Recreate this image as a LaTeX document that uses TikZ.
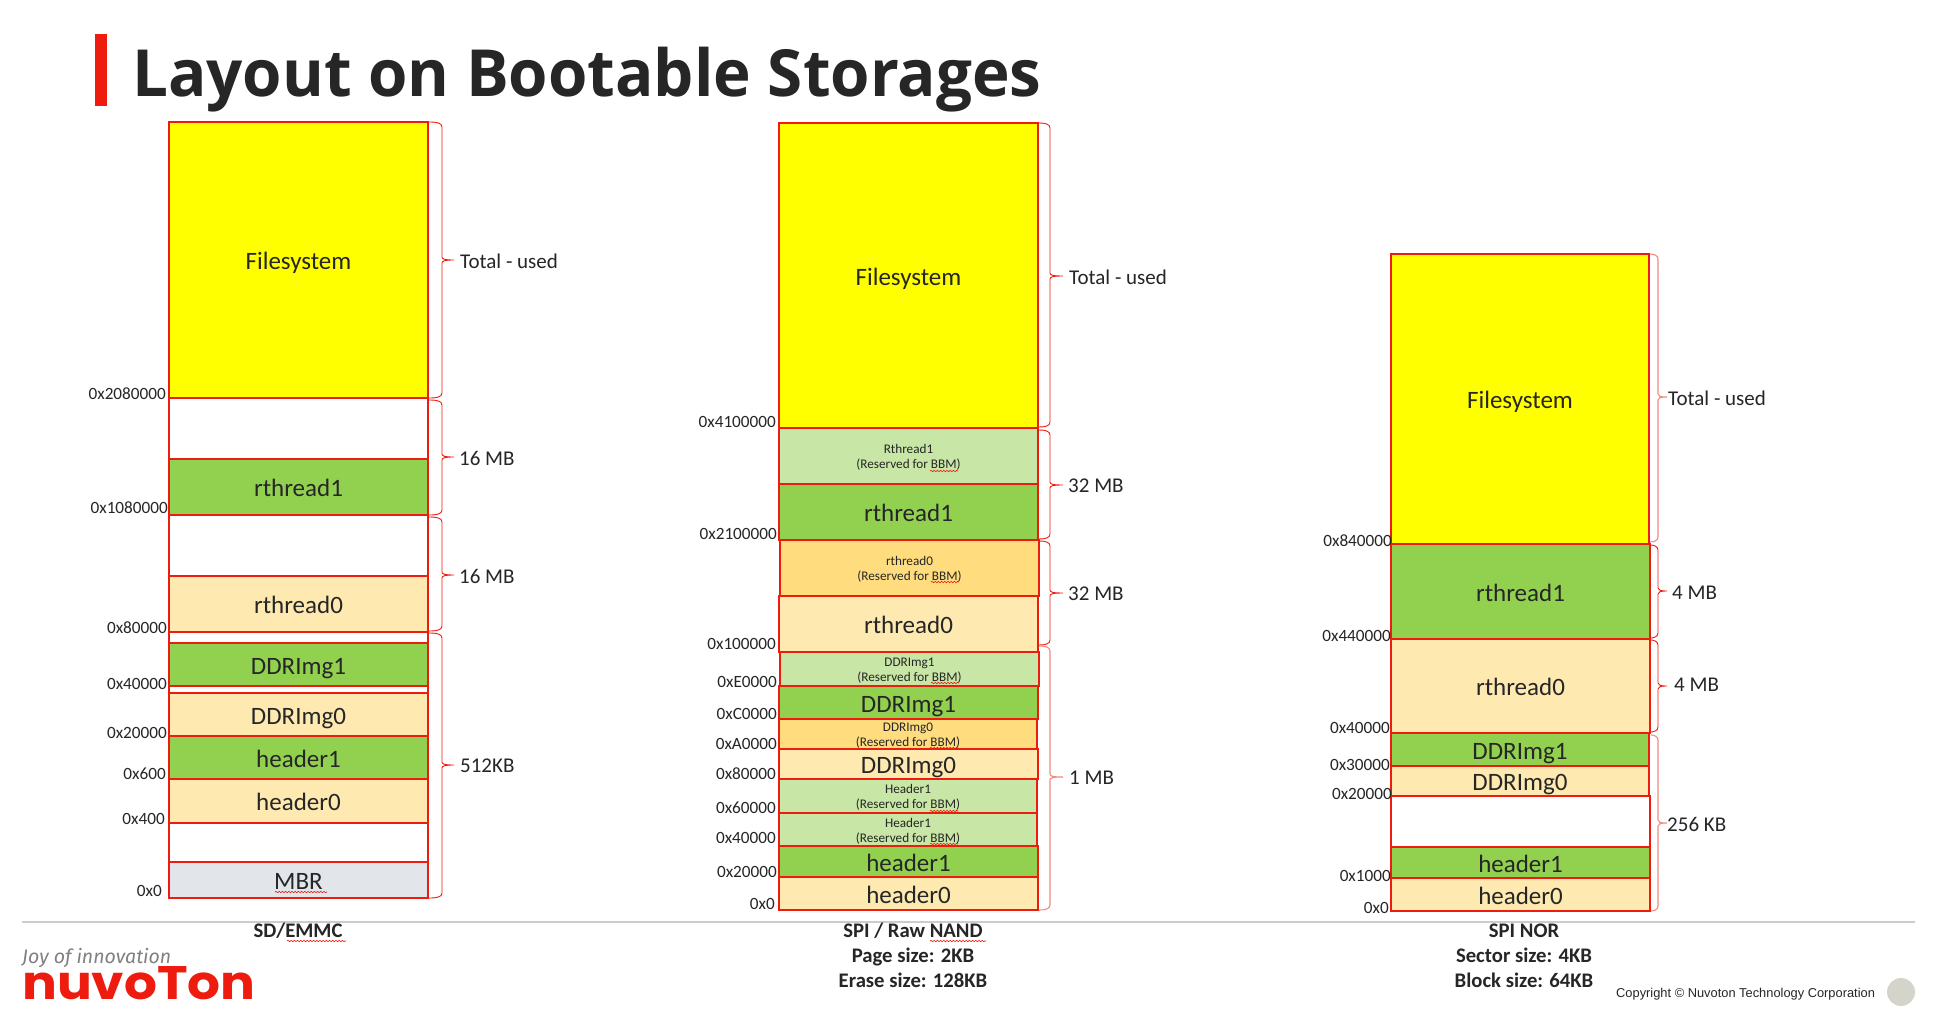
\documentclass[tikz,border=0pt]{standalone}
\usepackage{fontspec}
\usepackage{graphicx}
\setmainfont{Carlito}
\newfontfamily\titlefont{Open Sans}
\newfontfamily\arialfont{Liberation Sans}
\newfontfamily\logofont{Poppins}
\newfontfamily\joyfont{Fira Sans}
\usetikzlibrary{decorations.pathmorphing}
\definecolor{redline}{HTML}{EE1C0E}
\definecolor{brpale}{HTML}{F58A80}
\definecolor{ink}{HTML}{262626}
\definecolor{ylw}{HTML}{FFFF00}
\definecolor{grn}{HTML}{92D14F}
\definecolor{crm}{HTML}{FEE9B0}
\definecolor{pgrn}{HTML}{C8E6A5}
\definecolor{org}{HTML}{FFDC7E}
\definecolor{mbrc}{HTML}{E2E6EA}
\definecolor{dotc}{HTML}{D5D4CA}
\tikzset{
  seg/.style={draw=redline,line width=2.5pt,line join=miter},
  seglabel/.style={font=\fontsize{25}{28}\selectfont,text=ink,inner sep=0pt,text height=17pt,text depth=5pt,yshift=-3.6pt},
  bbmlabel/.style={font=\fontsize{13.2}{15}\selectfont,text=ink,inner sep=0pt,align=center,yshift=-1.5pt},
  addr/.style={font=\fontsize{17.2}{20}\selectfont,text=ink,inner sep=0pt,anchor=east,yshift=-1pt},
  sizelabel/.style={font=\fontsize{21}{24}\selectfont,text=ink,inner sep=0pt,anchor=west,yshift=-1pt},
  caption/.style={font=\fontsize{20.7}{25}\bfseries\selectfont,text=ink,inner sep=0pt,align=center,anchor=north},
  brace/.style={draw=redline,line width=0.9pt},
  palebrace/.style={draw=brpale,line width=1.1pt},
  squiggle/.style={draw=redline,line width=0.6pt,decorate,decoration={snake,amplitude=0.7pt,segment length=3.2pt}},
}
% #1 name, #2 x1, #3 y1, #4 x2, #5 y2, #6 fill, #7 label style, #8 text
\newcommand{\segbox}[8]{%
  \draw[seg,fill=#6] (#2,#3) rectangle (#4,#5) node[midway,#7] (#1) {#8};}
% #1 style, #2 x0, #3 x1, #4 x2, #5 ytop, #6 ytip, #7 ybot
\newcommand{\sizebrace}[7]{%
  \draw[#1] (#2,#5) .. controls ({#3-5},#5) and (#3,{#5+1}) .. (#3,{#5+5})
    -- (#3,{#6-3}) .. controls (#3,{#6-1}) and ({#3+2},#6) .. (#4,#6)
    (#3,{#6+3}) .. controls (#3,{#6+1}) and ({#3+2},#6) .. (#4,#6)
    (#3,{#6+3}) -- (#3,{#7-5}) .. controls (#3,{#7-1}) and ({#3-5},#7) .. (#2,#7);}
\newcommand{\wavyline}[3]{\draw[squiggle] (#1,#3) -- (#2,#3);}
\begin{document}
\begin{tikzpicture}[x=1pt,y=-1pt]
\useasboundingbox (0,0) rectangle (1939,1026);
\fill[white] (0,0) rectangle (1939,1026);
% title
\fill[fill=redline] (95,34) rectangle (107,106);
\node[text=ink,anchor=base west,inner sep=0pt] (title) at (132,96) {\scalebox{0.98}[1]{\titlefont\fontsize{65}{70}\selectfont\bfseries Layout on Bootable Storages}};
% footer rule
\draw[draw=black!20,line width=1.2pt] (22,922) -- (1915,922);
% ---------- column 1
\segbox{a1}{169}{122}{428}{398}{ylw}{seglabel}{Filesystem}
\segbox{a2}{169}{398}{428}{459}{white}{seglabel}{}
\segbox{a3}{169}{459}{428}{515}{grn}{seglabel}{rthread1}
\segbox{a4}{169}{515}{428}{576}{white}{seglabel}{}
\segbox{a5}{169}{576}{428}{632}{crm}{seglabel}{rthread0}
\segbox{a6}{169}{632}{428}{643}{white}{seglabel}{}
\segbox{a7}{169}{643}{428}{686}{grn}{seglabel}{DDRImg1}
\segbox{a8}{169}{686}{428}{693}{white}{seglabel}{}
\segbox{a9}{169}{693}{428}{736}{crm}{seglabel}{DDRImg0}
\segbox{a10}{169}{736}{428}{779}{grn}{seglabel}{header1}
\segbox{a11}{169}{779}{428}{823}{crm}{seglabel}{header0}
\segbox{a12}{169}{823}{428}{862}{white}{seglabel}{}
\segbox{a13}{169}{862}{428}{898}{mbrc}{seglabel}{MBR}
\wavyline{275}{327}{892}
\sizebrace{brace}{429}{442}{454}{122}{260}{398}
\sizebrace{brace}{429}{442}{454}{400}{457}{515}
\sizebrace{brace}{429}{442}{454}{517}{575}{631}
\sizebrace{brace}{429}{442}{454}{633}{765}{898}
\node[sizelabel] (as1) at (460,260) {Total - used};
\node[sizelabel] (as2) at (459,457) {16 MB};
\node[sizelabel] (as3) at (459,575) {16 MB};
\node[sizelabel] (as4) at (460,765) {512KB};
\node[addr] (aa1) at (166,393) {0x2080000};
\node[addr] (aa2) at (168,507) {0x1080000};
\node[addr] (aa3) at (167,627) {0x80000};
\node[addr] (aa4) at (167,683) {0x40000};
\node[addr] (aa5) at (167,732) {0x20000};
\node[addr] (aa6) at (166,773) {0x600};
\node[addr] (aa7) at (165,818) {0x400};
\node[addr] (aa8) at (162,890) {0x0};
\node[caption] (ac) at (298,923) {SD/EMMC};
\wavyline{287}{346}{941}
% ---------- column 2
\segbox{b1}{779}{123}{1038}{428}{ylw}{seglabel}{Filesystem}
\segbox{b2}{779}{428}{1038}{484}{pgrn}{bbmlabel}{Rthread1\\(Reserved for BBM)}
\segbox{b3}{779}{484}{1038}{540}{grn}{seglabel}{rthread1}
\segbox{b5}{779}{596}{1038}{652}{crm}{seglabel}{rthread0}
\segbox{b4}{780}{540}{1039}{596}{org}{bbmlabel}{rthread0\\(Reserved for BBM)}
\segbox{b7}{779}{686}{1038}{719}{grn}{seglabel}{DDRImg1}
\segbox{b6}{780}{652}{1039}{686}{pgrn}{bbmlabel}{DDRImg1\\(Reserved for BBM)}
\segbox{b9}{779}{749}{1038}{779}{crm}{seglabel}{DDRImg0}
\segbox{b8}{779}{719}{1037}{749}{org}{bbmlabel}{DDRImg0\\(Reserved for BBM)}
\segbox{b10}{779}{779}{1037}{813}{pgrn}{bbmlabel}{Header1\\(Reserved for BBM)}
\segbox{b11}{779}{813}{1037}{846}{pgrn}{bbmlabel}{Header1\\(Reserved for BBM)}
\segbox{b12}{779}{846}{1038}{877}{grn}{seglabel}{header1}
\segbox{b13}{779}{877}{1038}{910}{crm}{seglabel}{header0}
\wavyline{930}{958}{471}
\wavyline{931}{959}{582}
\wavyline{931}{959}{683}
\wavyline{930}{958}{748}
\wavyline{930}{958}{811}
\wavyline{930}{958}{844}
\sizebrace{brace}{1039}{1050}{1063}{123}{276}{427}
\sizebrace{brace}{1039}{1050}{1063}{430}{485}{539}
\sizebrace{brace}{1039}{1050}{1063}{541}{593}{645}
\sizebrace{palebrace}{1039}{1050}{1063}{646}{777}{910}
\node[sizelabel] (bs1) at (1069,276) {Total - used};
\node[sizelabel] (bs2) at (1068,485) {32 MB};
\node[sizelabel] (bs3) at (1068,593) {32 MB};
\node[sizelabel] (bs4) at (1069,777) {1 MB};
\node[addr] (ba1) at (776,421) {0x4100000};
\node[addr] (ba2) at (777,533) {0x2100000};
\node[addr] (ba3) at (776,643) {0x100000};
\node[addr] (ba4) at (777,681) {0xE0000};
\node[addr] (ba5) at (777,713) {0xC0000};
\node[addr] (ba6) at (777,743) {0xA0000};
\node[addr] (ba7) at (776,773) {0x80000};
\node[addr] (ba8) at (776,807) {0x60000};
\node[addr] (ba9) at (776,837) {0x40000};
\node[addr] (ba10) at (777,871) {0x20000};
\node[addr] (ba11) at (775,903) {0x0};
\node[caption] (bc) at (913,923) {SPI / Raw NAND\\Page size: 2KB\\Erase size: 128KB};
\wavyline{930}{986}{941}
% ---------- column 3
\segbox{c1}{1391}{254}{1649}{544}{ylw}{seglabel}{Filesystem}
\segbox{c2}{1391}{544}{1650}{639}{grn}{seglabel}{rthread1}
\segbox{c3}{1391}{639}{1650}{733}{crm}{seglabel}{rthread0}
\segbox{c4}{1391}{733}{1649}{766}{grn}{seglabel}{DDRImg1}
\segbox{c5}{1391}{766}{1649}{796}{crm}{seglabel}{DDRImg0}
\segbox{c6}{1391}{796}{1650}{847}{white}{seglabel}{}
\segbox{c7}{1391}{847}{1650}{878}{grn}{seglabel}{header1}
\segbox{c8}{1391}{878}{1650}{911}{crm}{seglabel}{header0}
\sizebrace{palebrace}{1650}{1658}{1667}{254}{397}{542}
\sizebrace{brace}{1651}{1658}{1667}{545}{591}{638}
\sizebrace{brace}{1651}{1658}{1667}{640}{686}{732}
\sizebrace{palebrace}{1651}{1658}{1667}{735}{823}{911}
\node[sizelabel] (cs1) at (1668,397) {Total - used};
\node[sizelabel] (cs2) at (1672,592) {4 MB};
\node[sizelabel] (cs3) at (1674,684) {4 MB};
\node[sizelabel] (cs4) at (1667,823) {256 KB};
\node[addr] (ca1) at (1392,540) {0x840000};
\node[addr] (ca2) at (1391,635) {0x440000};
\node[addr] (ca3) at (1390,727) {0x40000};
\node[addr] (ca4) at (1390,764) {0x30000};
\node[addr] (ca5) at (1392,793) {0x20000};
\node[addr] (ca6) at (1391,875) {0x1000};
\node[addr] (ca7) at (1389,907) {0x0};
\node[caption] (cc) at (1524,924) {SPI NOR\\Sector size: 4KB\\Block size: 64KB};
% ---------- footer
\node[font=\joyfont\itshape\fontsize{19.5}{22}\selectfont,text=black!50,anchor=base west,inner sep=0pt] (joy) at (22,963) {Joy of innovation};
\node[text=redline,anchor=base west,inner sep=0pt] (logo) at (22,999) {\scalebox{1.1}[1]{\logofont\bfseries\fontsize{47}{50}\selectfont nuvoTon}};
\node[font=\arialfont\fontsize{12.85}{14}\selectfont,text=ink,anchor=west,inner sep=0pt] (copy) at (1616,994) {Copyright © Nuvoton Technology Corporation};
\node[circle,fill=dotc,draw=none,minimum size=28pt,inner sep=0pt] (dot) at (1901,992) {};
\end{tikzpicture}
\end{document}
